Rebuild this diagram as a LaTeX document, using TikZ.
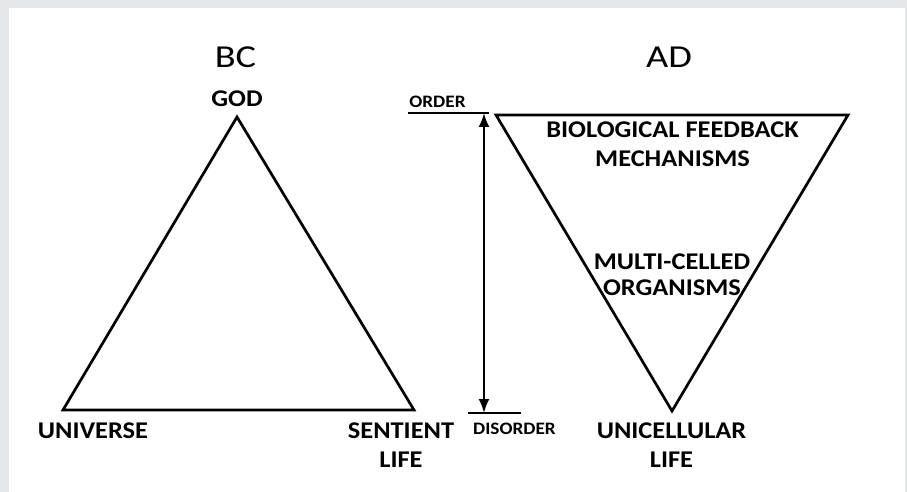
\documentclass[tikz,border=0pt]{standalone}
\usepackage{fontspec}
\usetikzlibrary{arrows.meta}
\newfontfamily\lblfont[FakeStretch=1.1]{Carlito}
\newfontfamily\bigfont[FakeStretch=1.2]{Carlito}
\definecolor{framegray}{HTML}{E6E7E9}
\tikzset{
  edge/.style={line width=2.7pt, line join=miter},
  big/.style={font=\bigfont\fontsize{32}{36}\selectfont, inner sep=0pt},
  lbl/.style={font=\lblfont\bfseries\fontsize{24}{28.5}\selectfont, inner sep=0pt, align=center},
  small/.style={font=\lblfont\bfseries\fontsize{17.5}{20}\selectfont, inner sep=0pt},
  scalebar/.style={line width=2.2pt}
}
\begin{document}
\begin{tikzpicture}[x=1pt,y=-1pt]
\fill[framegray] (0,0) rectangle (907,492);
\fill[white] (9,8) rectangle (905,492);
\useasboundingbox (0,0) rectangle (907,492);

% left triangle
\coordinate (god) at (237,117);
\coordinate (uni) at (63,410);
\coordinate (sen) at (414,410);
\draw[edge] (god) -- (uni) -- (sen) -- cycle;

% right triangle
\coordinate (tl) at (496,115);
\coordinate (tr) at (848,115);
\coordinate (bot) at (672,411);
\draw[edge] (tl) -- (tr) -- (bot) -- cycle;

% scale
\coordinate (ordL) at (408,113);
\coordinate (ordR) at (489,113);
\coordinate (disL) at (468,413);
\coordinate (disR) at (521,413);
\coordinate (arrTop) at (484,113);
\coordinate (arrBot) at (484,413);
\draw[scalebar] (ordL) -- (ordR);
\draw[scalebar] (disL) -- (disR);
\draw[scalebar, {Latex[length=14pt,width=11pt]}-{Latex[length=14pt,width=11pt]}] (arrTop) -- (arrBot);

% labels
\node[big] (bc) at (235.5,57) {BC};
\node[big] (ad) at (669,57) {AD};
\node[lbl] (godl) at (237,99) {GOD};
\node[lbl] (univl) at (93,431) {UNIVERSE};
\node[lbl, anchor=north] (senl) at (401,423) {SENTIENT\\LIFE};
\node[small] (ordl) at (437.5,101.5) {ORDER};
\node[small] (disl) at (514.5,428.5) {DISORDER};
\node[lbl, anchor=north] (bio) at (672.5,122) {BIOLOGICAL FEEDBACK\\MECHANISMS};
\node[lbl, anchor=north, font=\lblfont\bfseries\fontsize{24}{26}\selectfont] (multi) at (672,254) {MULTI-CELLED\\ORGANISMS};
\node[lbl, anchor=north] (unil) at (671.5,423) {UNICELLULAR\\LIFE};
\end{tikzpicture}
\end{document}
